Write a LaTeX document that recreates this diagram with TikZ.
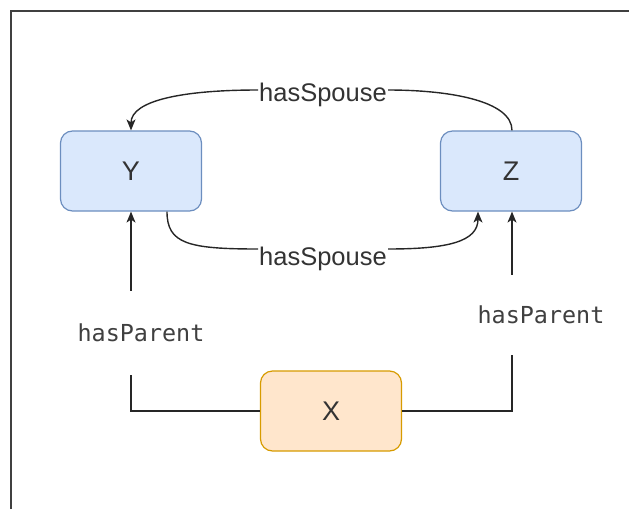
\documentclass[tikz,border=0pt]{standalone}
\usepackage{fontspec}
\setmainfont{Liberation Sans}
\setmonofont{DejaVu Sans Mono}
\usetikzlibrary{arrows.meta,calc}
\definecolor{bluefill}{HTML}{DAE8FC}
\definecolor{bluedraw}{HTML}{6C8EBF}
\definecolor{orfill}{HTML}{FFE6CC}
\definecolor{ordraw}{HTML}{D79B00}
\definecolor{txt}{HTML}{333333}
\definecolor{mtxt}{HTML}{404040}
\begin{document}
\begin{tikzpicture}[x=1pt,y=-1pt,
  box/.style={rounded corners=12pt, minimum width=141pt, minimum height=80pt,
    line width=1.2pt, font=\fontsize{27}{30}\selectfont, text=txt},
  bluebox/.style={box, fill=bluefill, draw=bluedraw},
  orbox/.style={box, fill=orfill, draw=ordraw},
  conn/.style={line width=1.4pt, draw=black!85},
  arr/.style={conn, -{Stealth[length=11pt,width=9pt,inset=3pt]}},
  lbl/.style={inner sep=1pt, text=txt, font=\fontsize{25.5}{28}\selectfont},
  mlbl/.style={fill=white, inner sep=0pt, text=mtxt, font=\ttfamily\fontsize{23.4}{26}\selectfont}]
\useasboundingbox (0,0) rectangle (629,509);
\draw[line width=2pt, draw=black!75] (11,509) -- (11,11) -- (629,11);

\node[bluebox] (Y) at (131,171) {Y};
\node[bluebox] (Z) at (511,171) {Z};
\node[orbox] (X) at (331,411) {X};

\node[lbl] (s1) at (323,95) {hasSpouse};
\node[lbl] (s2) at (323,259) {hasSpouse};

% top hasSpouse: Z -> Y
\draw[conn] ($(Z.north)+(1,0)$) .. controls +(0,-30) and +(60,0) .. ($(s1.east)+(0,-5)$);
\draw[arr] ($(s1.west)+(0,-5)$) .. controls +(-75,0) and +(0,-30) .. (Y.north);

% bottom hasSpouse: Y -> Z
\draw[conn] ($(Y.south)+(36,0)$) .. controls +(0,32) and +(-70,0) .. ($(s2.west)+(0,-10)$);
\draw[arr] ($(s2.east)+(0,-10)$) .. controls +(60,0) and +(0,30) .. ($(Z.south)+(-33,0)$);

% hasParent edges
\draw[arr] (X.west) -| (Y.south);
\draw[arr] (X.east) -| ($(Z.south)+(1,0)$);
\node[mlbl, minimum height=84pt] (p1) at (141,333) {hasParent};
\node[mlbl, minimum height=80pt] (p2) at (541,315) {hasParent};
\end{tikzpicture}
\end{document}
